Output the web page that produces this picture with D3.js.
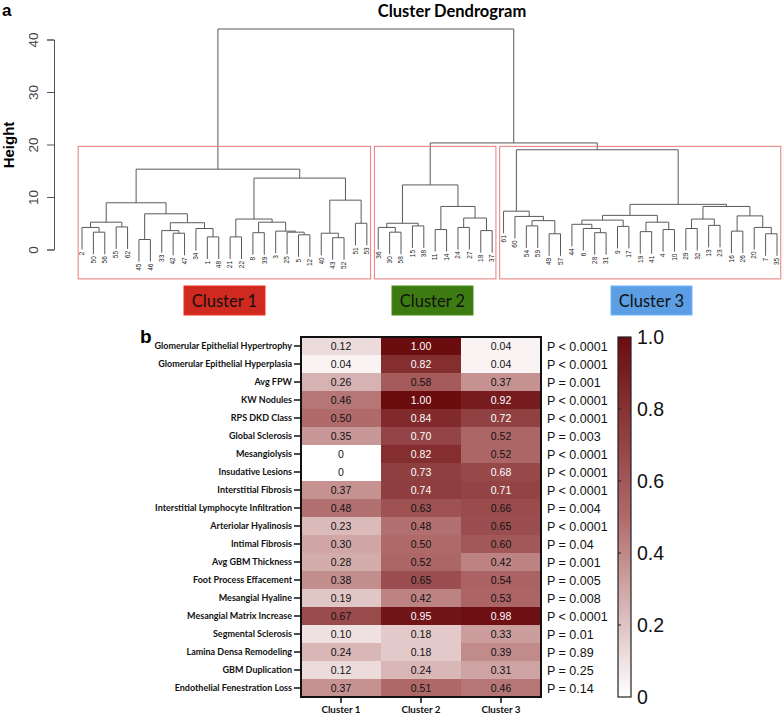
<!DOCTYPE html>
<html>
<head>
<meta charset="utf-8">
<script src="https://cdn.jsdelivr.net/npm/d3@7"></script>
<style>
body { margin: 0; background: #fff; }
svg { display: block; font-family: "Liberation Sans", Arial, sans-serif; }
</style>
</head>
<body>
<svg id="chart"></svg>
<script>
// ---- dendrogram data (hclust style: negative = observation, positive = earlier merge) ----
let merges = [
  [-45, -46, 1.9], [-43, -52, 2.25], [-21, -22, 2.4], [-1, -48, 2.4], [-5, -12, 2.8],
  [-42, -47, 3.1], [-40, 2, 3.1], [-8, -39, 3.2], [-50, -56, 3.3], [-25, 5, 3.3],
  [-3, 10, 3.5], [-33, 6, 3.6], [-34, 4, 4.0], [-2, 9, 4.2], [-55, -62, 4.3],
  [-51, -53, 5.0], [12, 13, 5.1], [14, 15, 5.2], [8, 11, 5.2], [3, 19, 5.8],
  [1, 17, 6.8], [18, 21, 8.9], [7, 16, 9.4], [20, 23, 13.6], [22, 24, 15.3],
  [-30, -58, 3.3], [-36, 26, 4.2], [-15, -38, 4.5], [27, 28, 5.0], [-11, -14, 3.8],
  [-24, -27, 4.2], [-18, -37, 3.6], [31, 32, 6.0], [30, 33, 8.2], [29, 34, 12.3],
  [-54, -59, 4.5], [-49, -57, 3.0], [36, 37, 5.5], [-60, 38, 6.3], [-61, 39, 7.3],
  [-28, -31, 3.2], [-6, 41, 4.0], [-44, 42, 4.8], [-9, -17, 4.4], [43, 44, 5.6],
  [-19, -41, 3.4], [-4, -10, 3.8], [46, 47, 5.2], [45, 48, 6.5], [-29, -32, 4.0],
  [-13, -23, 4.6], [50, 51, 5.8], [-16, -26, 3.5], [-7, -35, 3.0], [-20, 54, 4.2],
  [53, 55, 6.4], [52, 56, 8.2], [49, 57, 8.6], [40, 58, 19.0], [35, 59, 20.3],
  [25, 60, 42.0]
];
let clusterMerges = [25, 35, 59];
let heightTicks = [0, 10, 20, 30, 40];
let clusterNames = ["Cluster 1", "Cluster 2", "Cluster 3"];
let clusterColors = ["#d0291f", "#3d7b12", "#5c9ee4"];

// ---- heatmap data ----
let features = [
  "Glomerular Epithelial Hypertrophy", "Glomerular Epithelial Hyperplasia", "Avg FPW",
  "KW Nodules", "RPS DKD Class", "Global Sclerosis", "Mesangiolysis", "Insudative Lesions",
  "Interstitial Fibrosis", "Interstitial Lymphocyte Infiltration", "Arteriolar Hyalinosis",
  "Intimal Fibrosis", "Avg GBM Thickness", "Foot Process Effacement", "Mesangial Hyaline",
  "Mesangial Matrix Increase", "Segmental Sclerosis", "Lamina Densa Remodeling",
  "GBM Duplication", "Endothelial Fenestration Loss"
];
let cluster1 = [0.12, 0.04, 0.26, 0.46, 0.50, 0.35, 0, 0, 0.37, 0.48, 0.23, 0.30, 0.28, 0.38, 0.19, 0.67, 0.10, 0.24, 0.12, 0.37];
let cluster2 = [1.00, 0.82, 0.58, 1.00, 0.84, 0.70, 0.82, 0.73, 0.74, 0.63, 0.48, 0.50, 0.52, 0.65, 0.42, 0.95, 0.18, 0.18, 0.24, 0.51];
let cluster3 = [0.04, 0.04, 0.37, 0.92, 0.72, 0.52, 0.52, 0.68, 0.71, 0.66, 0.65, 0.60, 0.42, 0.54, 0.53, 0.98, 0.33, 0.39, 0.31, 0.46];
let pValues = [
  "P < 0.0001", "P < 0.0001", "P = 0.001", "P < 0.0001", "P < 0.0001", "P = 0.003",
  "P < 0.0001", "P < 0.0001", "P < 0.0001", "P = 0.004", "P < 0.0001", "P = 0.04",
  "P = 0.001", "P = 0.005", "P = 0.008", "P < 0.0001", "P = 0.01", "P = 0.89",
  "P = 0.25", "P = 0.14"
];
let legendTicks = [0, 0.2, 0.4, 0.6, 0.8, 1.0];

let width = 784;
let height = 714;
let svg = d3.select('#chart').attr('width', width).attr('height', height);

// ================= a: dendrogram =================
let nodes = [];
let getNode = (ref) => ref < 0 ? { leaf: -ref } : nodes[ref - 1];
merges.forEach((m) => nodes.push({ children: [getNode(m[0]), getNode(m[1])], h: m[2] }));
let root = nodes[nodes.length - 1];

let leafOrder = [];
let walk = (n) => { if (n.leaf) leafOrder.push(n.leaf); else n.children.forEach(walk); };
walk(root);

let xDen = d3.scalePoint().domain(leafOrder).range([82, 777]);
let step = xDen.step();
let yH = d3.scaleLinear().domain([0, 40]).range([249.5, 39.5]);
let hang = 0.1 * root.h;

let place = (n) => {
  if (n.leaf) { n.x = xDen(n.leaf); return n.x; }
  n.x = (place(n.children[0]) + place(n.children[1])) / 2;
  return n.x;
};
place(root);

let segs = [];
let leaves = [];
nodes.forEach((n) => {
  segs.push([n.children[0].x, yH(n.h), n.children[1].x, yH(n.h)]);
  n.children.forEach((c) => {
    let endH = c.leaf ? n.h - hang : c.h;
    segs.push([c.x, yH(n.h), c.x, yH(endH)]);
    if (c.leaf) leaves.push({ id: c.leaf, x: c.x, y: yH(endH) });
  });
});

let den = svg.append('g');
den.selectAll('line.branch')
  .data(segs)
  .enter()
  .append('line')
  .attr('class', 'branch')
  .attr('x1', (d) => d[0]).attr('y1', (d) => d[1])
  .attr('x2', (d) => d[2]).attr('y2', (d) => d[3])
  .attr('stroke', '#5a5a5a')
  .attr('stroke-width', 1);

den.selectAll('text.leaf')
  .data(leaves)
  .enter()
  .append('text')
  .attr('class', 'leaf')
  .attr('transform', (d) => 'translate(' + d.x + ',' + (d.y + 2) + ') rotate(-90)')
  .attr('text-anchor', 'end')
  .attr('dy', '0.35em')
  .attr('font-size', 6.5)
  .attr('fill', '#222')
  .text((d) => d.id);

// cluster rectangles (rect.hclust style)
let cutH = (merges[merges.length - 2][2] + merges[merges.length - 3][2]) / 2;
let leavesOf = (n) => n.leaf ? [n.leaf] : leavesOf(n.children[0]).concat(leavesOf(n.children[1]));
let boxes = clusterMerges.map((k) => {
  let xs = leavesOf(nodes[k - 1]).map((id) => xDen(id));
  return { x0: d3.min(xs) - 0.34 * step, x1: d3.max(xs) + 0.33 * step };
});
den.selectAll('rect.cut')
  .data(boxes)
  .enter()
  .append('rect')
  .attr('class', 'cut')
  .attr('x', (d) => d.x0)
  .attr('y', yH(cutH))
  .attr('width', (d) => d.x1 - d.x0)
  .attr('height', yH(-5.6) - yH(cutH))
  .attr('fill', 'none')
  .attr('stroke', '#e87b7b')
  .attr('stroke-width', 1);

// height axis
let yAxis = d3.axisLeft(yH).tickValues(heightTicks).tickSize(7).tickFormat(d3.format('d'));
let ga = svg.append('g').attr('transform', 'translate(54,0)').call(yAxis);
ga.select('.domain').attr('stroke', '#555');
ga.selectAll('.tick line').attr('stroke', '#555');
ga.selectAll('.tick text')
  .attr('x', null).attr('dy', null)
  .attr('transform', 'translate(-16,0) rotate(-90)')
  .attr('text-anchor', 'middle')
  .attr('font-size', 13.5)
  .attr('font-family', '"Liberation Sans", Arial, sans-serif')
  .attr('fill', '#444');

svg.append('text')
  .attr('transform', 'translate(14,145) rotate(-90)')
  .attr('text-anchor', 'middle')
  .attr('font-size', 15)
  .attr('font-weight', 'bold')
  .text('Height');

svg.append('text')
  .attr('x', 452).attr('y', 17)
  .attr('text-anchor', 'middle')
  .attr('font-family', 'Lato, sans-serif')
  .attr('font-weight', 'bold')
  .attr('font-size', 16.5)
  .text('Cluster Dendrogram');

svg.append('text')
  .attr('x', 2).attr('y', 16)
  .attr('font-size', 17)
  .attr('font-weight', 'bold')
  .text('a');

// coloured cluster tags
let tagX = [184, 392, 611];
let tags = svg.selectAll('g.tag')
  .data(clusterNames)
  .enter()
  .append('g')
  .attr('class', 'tag')
  .attr('transform', (d, i) => 'translate(' + tagX[i] + ',286)');
tags.append('rect')
  .attr('width', 81).attr('height', 29)
  .attr('fill', (d, i) => clusterColors[i])
  .attr('stroke', (d, i) => d3.color(clusterColors[i]).brighter(0.4))
  .attr('stroke-width', 1);
tags.append('text')
  .attr('x', 40.5).attr('y', 20.5)
  .attr('text-anchor', 'middle')
  .attr('font-family', 'Lato, sans-serif')
  .attr('font-size', 16.5)
  .attr('fill', '#111')
  .text((d) => d);

// ================= b: heatmap =================
let cells = [];
features.forEach((f, i) => {
  [cluster1, cluster2, cluster3].forEach((arr, j) => {
    cells.push({ feature: f, cluster: clusterNames[j], v: arr[i] });
  });
});

let xHeat = d3.scaleBand().domain(clusterNames).range([301, 541]);
let yHeat = d3.scaleBand().domain(features).range([337, 697]);
let color = d3.scaleLinear().domain([0, 0.5, 1]).range(['#ffffff', '#b06a6a', '#6b0c0f']);

svg.selectAll('rect.cell')
  .data(cells)
  .enter()
  .append('rect')
  .attr('class', 'cell')
  .attr('x', (d) => xHeat(d.cluster))
  .attr('y', (d) => yHeat(d.feature))
  .attr('width', xHeat.bandwidth())
  .attr('height', yHeat.bandwidth())
  .attr('fill', (d) => color(d.v));

svg.selectAll('text.val')
  .data(cells)
  .enter()
  .append('text')
  .attr('class', 'val')
  .attr('x', (d) => xHeat(d.cluster) + xHeat.bandwidth() / 2)
  .attr('y', (d) => yHeat(d.feature) + yHeat.bandwidth() / 2)
  .attr('dy', '0.36em')
  .attr('text-anchor', 'middle')
  .attr('font-size', 10.5)
  .attr('fill', (d) => d.v >= 0.68 ? '#fff' : '#111')
  .text((d) => d.v === 0 ? '0' : d3.format('.2f')(d.v));

svg.append('rect')
  .attr('x', 301).attr('y', 337)
  .attr('width', 240).attr('height', 360)
  .attr('fill', 'none')
  .attr('stroke', '#111')
  .attr('stroke-width', 2);

let rowAxis = d3.axisLeft(yHeat).tickSize(6).tickPadding(2);
let gr = svg.append('g').attr('transform', 'translate(300,0)').call(rowAxis);
gr.select('.domain').remove();
gr.selectAll('.tick line').attr('stroke', '#111').attr('stroke-width', 1.5);
gr.selectAll('.tick text')
  .attr('font-family', 'Lato, sans-serif')
  .attr('font-weight', 'bold')
  .attr('font-size', 9)
  .attr('fill', '#111');

let colAxis = d3.axisBottom(xHeat).tickSize(5).tickPadding(3);
let gc = svg.append('g').attr('transform', 'translate(0,698)').call(colAxis);
gc.select('.domain').remove();
gc.selectAll('.tick line').attr('stroke', '#111').attr('stroke-width', 1.5);
gc.selectAll('.tick text')
  .attr('font-family', 'Lato, sans-serif')
  .attr('font-weight', 'bold')
  .attr('font-size', 9.8)
  .attr('fill', '#111');

svg.selectAll('text.pval')
  .data(pValues)
  .enter()
  .append('text')
  .attr('class', 'pval')
  .attr('x', 547)
  .attr('y', (d, i) => yHeat(features[i]) + yHeat.bandwidth() / 2)
  .attr('dy', '0.36em')
  .attr('font-size', 12.5)
  .attr('fill', '#111')
  .text((d) => d);

svg.append('text')
  .attr('x', 140).attr('y', 343)
  .attr('font-size', 19)
  .attr('font-weight', 'bold')
  .text('b');

// colour bar
let yLeg = d3.scaleLinear().domain([0, 1]).range([697, 337]);
let grad = svg.append('defs').append('linearGradient')
  .attr('id', 'grad').attr('x1', 0).attr('y1', 1).attr('x2', 0).attr('y2', 0);
grad.selectAll('stop')
  .data(d3.range(0, 1.01, 0.1))
  .enter()
  .append('stop')
  .attr('offset', (d) => d)
  .attr('stop-color', (d) => color(d));
svg.append('rect')
  .attr('x', 618).attr('y', yLeg(1))
  .attr('width', 13).attr('height', yLeg(0) - yLeg(1))
  .attr('fill', 'url(#grad)')
  .attr('stroke', '#222')
  .attr('stroke-width', 1.2);
svg.selectAll('line.ltick')
  .data(legendTicks.slice(1, -1))
  .enter()
  .append('line')
  .attr('class', 'ltick')
  .attr('x1', 618).attr('x2', 621)
  .attr('y1', (d) => yLeg(d)).attr('y2', (d) => yLeg(d))
  .attr('stroke', '#222');
let legAxis = d3.axisRight(yLeg).tickValues(legendTicks).tickSize(0).tickPadding(6)
  .tickFormat((d) => d === 0 ? '0' : d3.format('.1f')(d));
let gl = svg.append('g').attr('transform', 'translate(631,0)').call(legAxis);
gl.select('.domain').remove();
gl.selectAll('.tick text')
  .attr('font-family', '"Liberation Sans", Arial, sans-serif')
  .attr('font-size', 19.5)
  .attr('fill', '#111');
</script>
</body>
</html>
